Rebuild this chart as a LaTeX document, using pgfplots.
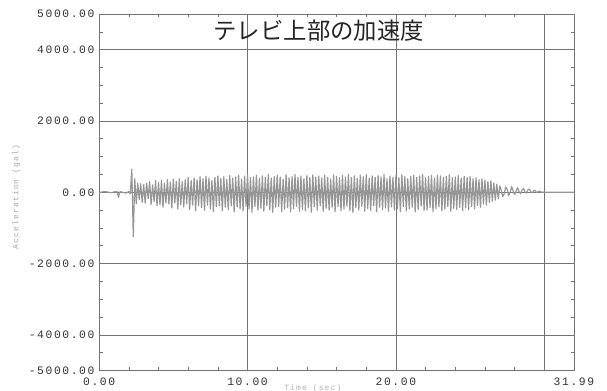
\documentclass[border=0pt]{standalone}
\usepackage{pgfplots}
\pgfplotsset{compat=1.18}
\usepackage{fontspec}
\newfontfamily\tickfont[LetterSpace=14]{Liberation Mono}
\newfontfamily\cjk{Noto Sans CJK JP}
\definecolor{sig}{RGB}{150,150,150}
\definecolor{gridc}{RGB}{115,115,115}
\definecolor{labc}{RGB}{50,50,50}
\begin{document}
\begin{tikzpicture}
\begin{axis}[
  scale only axis,
  width=355.5pt, height=267pt,
  at={(0,0)}, anchor=south west,
  xmin=0, xmax=32, ymin=-5000, ymax=5000,
  xtick={0,10,20,30,32},
  xticklabels={0.00,10.00,20.00,,31.99},
  ytick={-5000,-4000,-2000,0,2000,4000,5000},
  yticklabels={-5000.00,-4000.00,-2000.00,0.00,2000.00,4000.00,5000.00},
  minor xtick={2,4,6,8,12,14,16,18,22,24,26,28},
  minor ytick={-4500,-3500,-3000,-2500,-1500,-1000,-500,500,1000,1500,2500,3000,3500,4500},
  tick align=inside,
  major tick length=3pt, minor tick length=2.5pt,
  tick style={gridc, line width=0.5pt},
  grid=major,
  major grid style={gridc, line width=0.5pt},
  axis line style={gridc, line width=0.6pt},
  ticklabel style={font=\tickfont\fontsize{8.5}{9}\selectfont, text=labc},
  xticklabel style={yshift=-2pt},
  clip=true,
]
\addplot[sig, line width=0.9pt, line join=round] coordinates {
(0.0,0) (0.4,20) (0.8,-10) (1.2,30) (1.3,-140) (1.4,20) (1.8,-20)
(2.0,20) (2.1,-40) (2.2,650) (2.3,-1250) (2.4,380) (2.5,-320) (2.6,260) (2.7,-200) (2.8,240) (2.9,-280)
(3.0,220) (3.1,-300) (3.2,260) (3.3,-180) (3.4,300) (3.5,-340) (3.6,210) (3.7,-260) (3.8,330) (3.9,-380)
(4.0,280) (4.1,-350) (4.2,340) (4.3,-420) (4.4,260) (4.5,-300) (4.6,360) (4.7,-330) (4.8,290) (4.9,-440)
(5.0,370) (5.1,-300) (5.2,310) (5.3,-460) (5.4,380) (5.5,-350) (5.6,300) (5.7,-410) (5.8,350) (5.9,-320)
(6.0,420) (6.1,-480) (6.2,330) (6.3,-360) (6.4,400) (6.5,-520) (6.6,350) (6.7,-380) (6.8,440) (6.9,-430)
(7.0,380) (7.1,-500) (7.2,450) (7.3,-360) (7.4,400) (7.5,-470) (7.6,330) (7.7,-540) (7.8,420) (7.9,-400)
(8.0,460) (8.1,-380) (8.2,390) (8.3,-520) (8.4,440) (8.5,-420) (8.6,360) (8.7,-490) (8.8,470) (8.9,-380)
(9.0,400) (9.1,-550) (9.2,430) (9.3,-410) (9.4,480) (9.5,-460) (9.6,370) (9.7,-520) (9.8,450) (9.9,-390)
(10.0,500) (10.1,-470) (10.2,410) (10.3,-560) (10.4,430) (10.5,-400) (10.6,480) (10.7,-500) (10.8,390) (10.9,-450)
(11.0,460) (11.1,-530) (11.2,420) (11.3,-380) (11.4,500) (11.5,-490) (11.6,400) (11.7,-560) (11.8,440) (11.9,-420)
(12.0,480) (12.1,-400) (12.2,430) (12.3,-540) (12.4,370) (12.5,-470) (12.6,490) (12.7,-430) (12.8,410) (12.9,-550)
(13.0,440) (13.1,-460) (13.2,500) (13.3,-390) (13.4,420) (13.5,-530) (13.6,460) (13.7,-480) (13.8,380) (13.9,-520)
(14.0,470) (14.1,-440) (14.2,410) (14.3,-560) (14.4,490) (14.5,-410) (14.6,430) (14.7,-500) (14.8,460) (14.9,-380)
(15.0,400) (15.1,-530) (15.2,480) (15.3,-450) (15.4,420) (15.5,-500) (15.6,370) (15.7,-420) (15.8,490) (15.9,-540)
(16.0,450) (16.1,-400) (16.2,410) (16.3,-520) (16.4,470) (16.5,-470) (16.6,430) (16.7,-390) (16.8,500) (16.9,-510)
(17.0,420) (17.1,-560) (17.2,460) (17.3,-430) (17.4,390) (17.5,-490) (17.6,480) (17.7,-400) (17.8,440) (17.9,-530)
(18.0,490) (18.1,-450) (18.2,400) (18.3,-510) (18.4,460) (18.5,-380) (18.6,420) (18.7,-550) (18.8,470) (18.9,-420)
(19.0,430) (19.1,-490) (19.2,500) (19.3,-440) (19.4,380) (19.5,-530) (19.6,460) (19.7,-410) (19.8,420) (19.9,-500)
(20.0,470) (20.1,-460) (20.2,410) (20.3,-540) (20.4,490) (20.5,-400) (20.6,440) (20.7,-520) (20.8,380) (20.9,-470)
(21.0,450) (21.1,-420) (21.2,480) (21.3,-550) (21.4,420) (21.5,-480) (21.6,460) (21.7,-390) (21.8,500) (21.9,-510)
(22.0,410) (22.1,-500) (22.2,440) (22.3,-430) (22.4,470) (22.5,-540) (22.6,400) (22.7,-460) (22.8,480) (22.9,-410)
(23.0,460) (23.1,-520) (23.2,420) (23.3,-470) (23.4,450) (23.5,-400) (23.6,490) (23.7,-530) (23.8,410) (23.9,-450)
(24.0,430) (24.1,-480) (24.2,470) (24.3,-420) (24.4,400) (24.5,-510) (24.6,450) (24.7,-440) (24.8,420) (24.9,-490)
(25.0,440) (25.1,-400) (25.2,380) (25.3,-460) (25.4,410) (25.5,-370) (25.6,350) (25.7,-420) (25.8,380) (25.9,-330)
(26.0,340) (26.1,-360) (26.2,300) (26.3,-280) (26.4,320) (26.5,-250) (26.6,260) (26.7,-220) (26.8,230) (26.9,-180)
(27.0,180) (27.1,60) (27.2,-120) (27.3,-40) (27.4,150) (27.5,80) (27.6,-90) (27.7,0) (27.8,160) (27.9,40)
(28.0,-60) (28.1,30) (28.2,130) (28.3,20) (28.4,-40) (28.5,60) (28.6,110) (28.7,10) (28.8,-20) (28.9,70)
(29.0,90) (29.1,0) (29.2,-10) (29.3,60) (29.4,40) (29.5,-10) (29.6,20) (29.7,30) (29.8,0) (29.9,10)
(30.0,0) (32.0,0)
};
\node[font=\cjk\fontsize{17.5}{18}\selectfont, text=black!85] at (axis cs:14.8,4530) {テレビ上部の加速度};
\end{axis}
\node[rotate=90, font=\tickfont\fontsize{6}{7}\selectfont, text=black!35] at (-62pt,130pt) {Acceleration (gal)};
\node[font=\tickfont\fontsize{6}{7}\selectfont, text=black!30] at (160pt,-13pt) {Time (sec)};
\pgfresetboundingbox
\path[use as bounding box] (-74.25pt,-15pt) rectangle (380.25pt,277.5pt);
\end{tikzpicture}
\end{document}
